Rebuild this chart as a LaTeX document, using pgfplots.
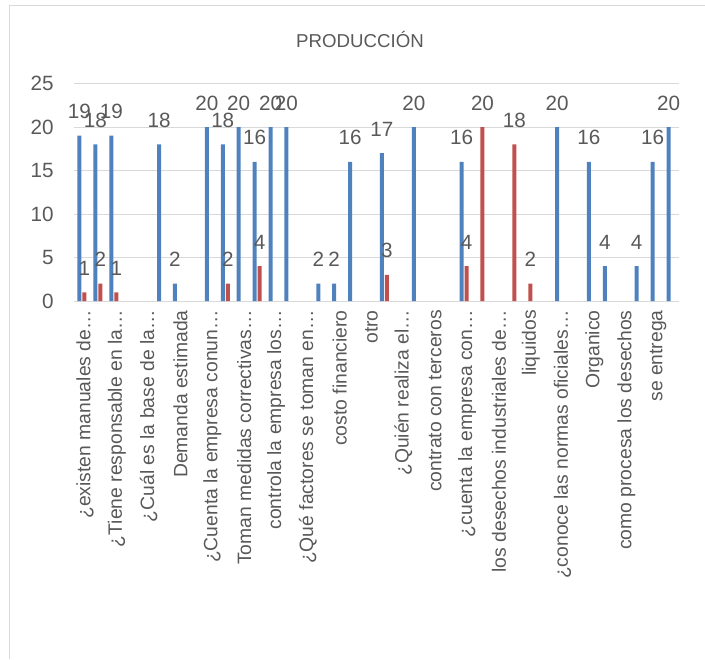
\documentclass[border=0pt]{standalone}
\usepackage{pgfplots}
\pgfplotsset{compat=1.18}
\usepackage{fontspec}
\setmainfont{Liberation Sans}
\definecolor{barblue}{HTML}{4F81BD}
\definecolor{barred}{HTML}{C0504D}
\definecolor{gridgray}{HTML}{D9D9D9}
\definecolor{txt}{HTML}{595959}
\newcommand{\chartfont}{\fontsize{14}{16}\selectfont}
\newcommand{\labelfont}{\fontsize{14.5}{16}\selectfont}
\newcommand{\numfont}{\fontsize{15.5}{18}\selectfont}
\begin{document}
\begin{tikzpicture}
\useasboundingbox (0pt,0pt) rectangle (528.75pt,-494.25pt);
\draw[gridgray, line width=0.75pt] (6.75pt,-494.25pt) -- (6.75pt,-4.5pt) -- (528.75pt,-4.5pt);
\node[text=txt, font=\chartfont] at (270pt,-30pt) {PRODUCCIÓN};
\begin{axis}[
  at={(55.5pt,-225.75pt)}, anchor=south west,
  width=453.75pt, height=163.125pt, scale only axis,
  xmin=-0.5, xmax=37.5, ymin=0, ymax=25,
  ybar=0.75pt, bar width=3pt,
  /pgf/number format/assume math mode=true,
  ytick={0,5,...,25},
  xtick={0,2,...,36},
  xticklabels={{¿existen manuales de…},{¿Tiene responsable en la…},{¿Cuál es la base de la…},{Demanda estimada},{¿Cuenta la empresa conun…},{Toman medidas correctivas…},{controla la empresa los…},{¿Qué factores se toman en…},{costo financiero},{otro},{¿Quién realiza el…},{contrato con terceros},{¿cuenta la empresa con…},{los desechos industriales de…},{liquidos},{¿conoce las normas oficiales…},{Organico},{como procesa los desechos},{se entrega}},
  ymajorgrids, grid style={gridgray, line width=0.75pt},
  axis line style={draw=none}, tick style={draw=none},
  tick label style={text=txt},
  yticklabel style={font=\numfont, anchor=east, inner xsep=15pt},
  xticklabel style={font=\labelfont, xshift=2.25pt, rotate=90, anchor=east, inner xsep=2.5pt, inner ysep=0pt},
  clip=false,
  nodes near coords,
  every node near coord/.append style={font=\numfont, text=txt, anchor=base, yshift=12.75pt},
]
\addplot[fill=barblue, draw=none] coordinates {
(0,19) (1,18) (2,19) (5,18) (6,2) (8,20) (9,18) (10,20) (11,16) (12,20) (13,20)
(15,2) (16,2) (17,16) (19,17) (21,20) (24,16) (30,20) (32,16) (33,4) (35,4) (36,16) (37,20)};
\addplot[fill=barred, draw=none] coordinates {
(0,1) (1,2) (2,1) (9,2) (11,4) (19,3) (24,4) (25,20) (27,18) (28,2)};
\end{axis}
\end{tikzpicture}
\end{document}
